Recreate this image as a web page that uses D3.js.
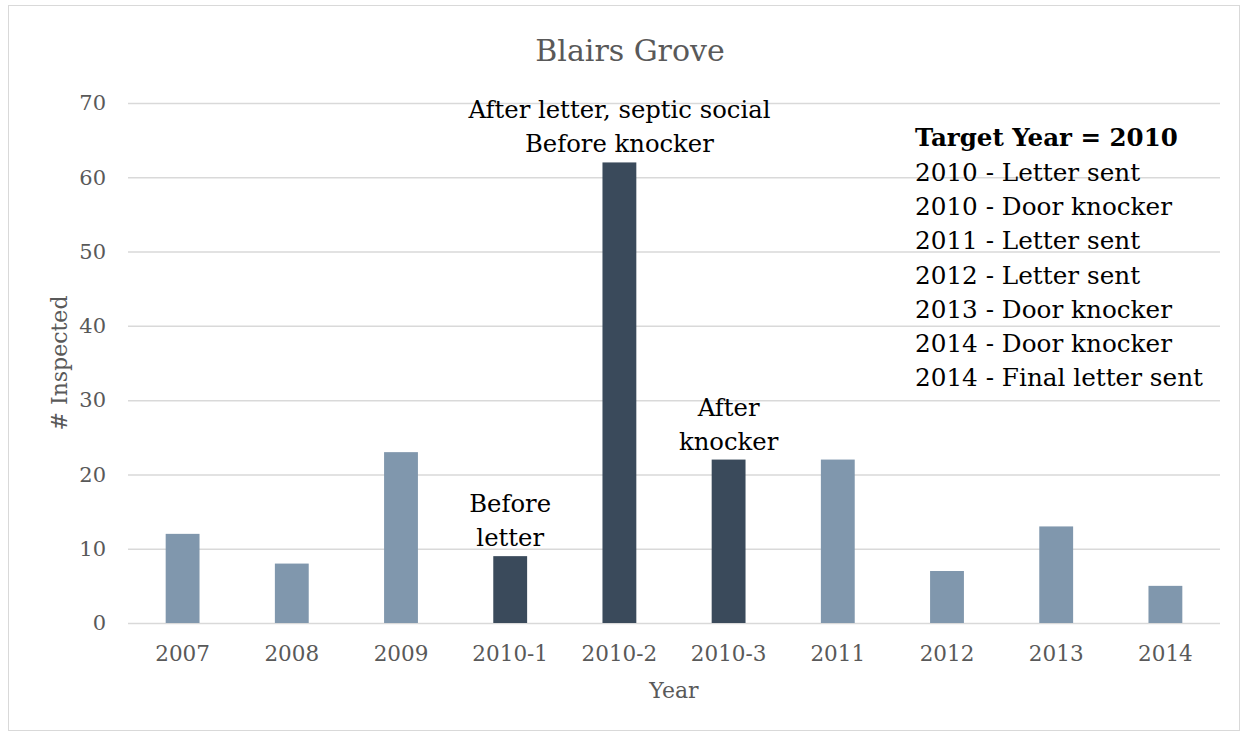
<!DOCTYPE html>
<html>
<head>
    <title>Blairs Grove</title>
    <script src="https://d3js.org/d3.v7.min.js"></script>
    <style>
        body {
            margin: 0;
            background-color: #fff;
            font-family: "DejaVu Serif", serif;
        }
        .tick text {
            font-family: "DejaVu Serif", serif;
        }
    </style>
</head>
<body>
    <div id="chart"></div>
    <script>
        // data
        const categories = ['2007', '2008', '2009', '2010-1', '2010-2', '2010-3', '2011', '2012', '2013', '2014'];
        const inspected = [12, 8, 23, 9, 62, 22, 22, 7, 13, 5];
        const highlighted = ['2010-1', '2010-2', '2010-3'];
        const yTicks = [0, 10, 20, 30, 40, 50, 60, 70];
        const barNotes = [
            { cat: '2010-1', lines: ['Before', 'letter'] },
            { cat: '2010-2', lines: ['After letter, septic social', 'Before knocker'] },
            { cat: '2010-3', lines: ['After', 'knocker'] }
        ];
        const legendTitle = 'Target Year = 2010';
        const legendLines = [
            '2010 - Letter sent',
            '2010 - Door knocker',
            '2011 - Letter sent',
            '2012 - Letter sent',
            '2013 - Door knocker',
            '2014 - Door knocker',
            '2014 - Final letter sent'
        ];

        const width = 1247;
        const height = 736;
        const margin = { top: 103, right: 27, bottom: 113, left: 128 };

        const svg = d3.select('#chart')
            .append('svg')
            .attr('width', width)
            .attr('height', height);

        // outer frame
        svg.append('rect')
            .attr('x', 8.5)
            .attr('y', 5.5)
            .attr('width', 1231)
            .attr('height', 725)
            .attr('fill', '#fff')
            .attr('stroke', '#d9d9d9')
            .attr('stroke-width', 1);

        const x = d3.scaleBand()
            .domain(categories)
            .range([margin.left, width - margin.right])
            .paddingInner(0.69)
            .paddingOuter(0.345);

        const y = d3.scaleLinear()
            .domain([0, 70])
            .range([height - margin.bottom, margin.top]);

        // gridlines
        svg.append('g')
            .attr('transform', `translate(${margin.left},0)`)
            .call(d3.axisLeft(y).tickValues(yTicks).tickSize(-(width - margin.left - margin.right)).tickFormat(''))
            .call(g => g.select('.domain').remove())
            .call(g => g.selectAll('line').attr('stroke', '#d9d9d9').attr('stroke-width', 1.5));

        // y labels
        svg.append('g')
            .attr('transform', `translate(${margin.left - 22},0)`)
            .call(d3.axisLeft(y).tickValues(yTicks).tickSize(0).tickPadding(0))
            .call(g => g.select('.domain').remove())
            .call(g => g.selectAll('text')
                .attr('fill', '#595959')
                .style('font-size', '21px'));

        // x labels
        svg.append('g')
            .attr('transform', `translate(0,${height - margin.bottom})`)
            .call(d3.axisBottom(x).tickSize(0).tickPadding(23))
            .call(g => g.select('.domain').remove())
            .call(g => g.selectAll('text')
                .attr('fill', '#595959')
                .style('font-size', '21.5px'));

        // bars
        svg.selectAll('.bar')
            .data(categories)
            .enter()
            .append('rect')
            .attr('class', 'bar')
            .attr('x', d => x(d))
            .attr('width', x.bandwidth())
            .attr('y', (d, i) => y(inspected[i]))
            .attr('height', (d, i) => y(0) - y(inspected[i]))
            .attr('fill', d => highlighted.includes(d) ? '#3a4a5b' : '#8097ad');

        // notes above bars
        barNotes.forEach(n => {
            const i = categories.indexOf(n.cat);
            const cx = x(n.cat) + x.bandwidth() / 2;
            const top = y(inspected[i]);
            n.lines.forEach((line, k) => {
                svg.append('text')
                    .attr('x', cx)
                    .attr('y', top - 10 - (n.lines.length - 1 - k) * 34)
                    .attr('text-anchor', 'middle')
                    .attr('fill', '#000')
                    .style('font-size', '24.3px')
                    .text(line);
            });
        });

        // title
        svg.append('text')
            .attr('x', 630)
            .attr('y', 61)
            .attr('text-anchor', 'middle')
            .attr('fill', '#595959')
            .style('font-size', '30px')
            .text('Blairs Grove');

        // axis titles
        svg.append('text')
            .attr('x', x.range()[0] + (x.range()[1] - x.range()[0]) / 2)
            .attr('y', 698)
            .attr('text-anchor', 'middle')
            .attr('fill', '#595959')
            .style('font-size', '22px')
            .text('Year');

        svg.append('text')
            .attr('transform', `translate(67,${(margin.top + height - margin.bottom) / 2}) rotate(-90)`)
            .attr('text-anchor', 'middle')
            .attr('fill', '#595959')
            .style('font-size', '22px')
            .text('# Inspected');

        // legend block
        svg.append('text')
            .attr('x', 915)
            .attr('y', 146)
            .attr('fill', '#000')
            .style('font-size', '24.5px')
            .style('font-weight', 'bold')
            .text(legendTitle);

        svg.selectAll('.legend-line')
            .data(legendLines)
            .enter()
            .append('text')
            .attr('class', 'legend-line')
            .attr('x', 915)
            .attr('y', (d, i) => 181 + i * 34.2)
            .attr('fill', '#000')
            .style('font-size', '24.7px')
            .text(d => d);
    </script>
</body>
</html>
